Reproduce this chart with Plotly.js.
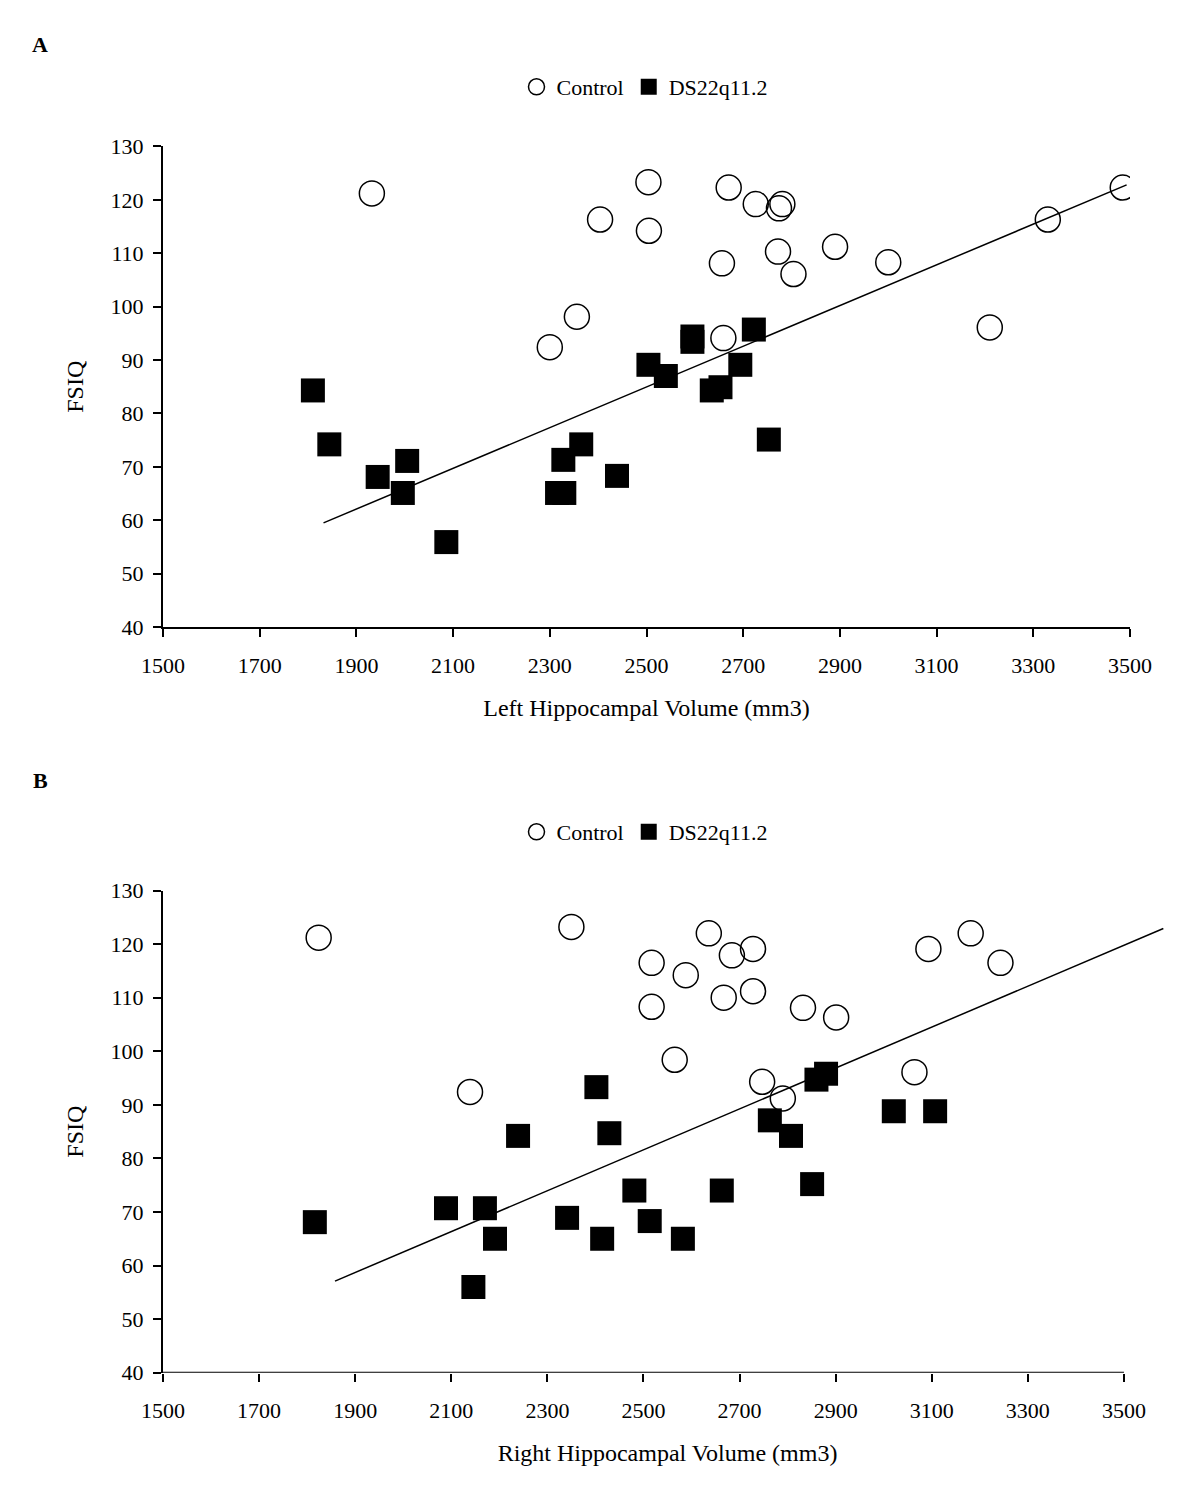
<!DOCTYPE html>
<html>
<head>
<meta charset="utf-8">
<script src="https://cdn.plot.ly/plotly-3.0.1.min.js"></script>
<style>
  html, body { margin: 0; padding: 0; background: #ffffff; }
  #chart { width: 1200px; height: 1491px; }
</style>
</head>
<body>
<div id="chart"></div>
<script>
// ---------- Data ----------
// Panel A : Left hippocampal volume vs FSIQ
const ctrlA_x = [1932, 2300, 2356, 2404, 2504, 2505, 2659, 2656, 2670, 2726, 2781, 2774, 2772, 2804, 2890, 3000, 3210, 3330, 3485];
const ctrlA_y = [121.2, 92.4, 98.1, 116.3, 123.3, 114.2, 94.1, 108.1, 122.3, 119.2, 119.2, 118.4, 110.3, 106.1, 111.2, 108.3, 96.1, 116.3, 122.3];
const dsA_x = [1810, 1844, 1944, 1996, 2005, 2086, 2315, 2330, 2328, 2365, 2439, 2504, 2540, 2595, 2595, 2635, 2653, 2694, 2722, 2753];
const dsA_y = [84.3, 74.2, 68.1, 65.1, 71.1, 55.9, 65.1, 65.1, 71.3, 74.2, 68.3, 89.1, 87.0, 94.4, 93.4, 84.3, 84.9, 89.1, 95.7, 75.1];
const trendA_x = [1832, 3493];
const trendA_y = [59.5, 122.8];

// Panel B : Right hippocampal volume vs FSIQ
const ctrlB_x = [1824, 2350, 2139, 2517, 2517, 2636, 2588, 2684, 2728, 2667, 2728, 2832, 2901, 2565, 2747, 2790, 3064, 3093, 3181, 3243];
const ctrlB_y = [121.2, 123.2, 92.4, 116.5, 108.3, 122.0, 114.2, 117.9, 119.1, 110.0, 111.2, 108.1, 106.3, 98.4, 94.3, 91.2, 96.1, 119.1, 122.0, 116.5];
const dsB_x = [1816, 2089, 2146, 2170, 2191, 2239, 2341, 2402, 2414, 2429, 2481, 2513, 2582, 2663, 2763, 2807, 2851, 2860, 2880, 3021, 3107];
const dsB_y = [68.1, 70.7, 56.0, 70.7, 65.0, 84.2, 68.9, 93.3, 65.0, 84.7, 74.0, 68.3, 65.0, 74.0, 87.1, 84.2, 75.2, 94.7, 95.8, 88.8, 88.8];
const trendB_x = [1858, 3582];
const trendB_y = [57.1, 122.9];

// Axes / labels
const xTicks = [1500, 1700, 1900, 2100, 2300, 2500, 2700, 2900, 3100, 3300, 3500];
const yTicks = [40, 50, 60, 70, 80, 90, 100, 110, 120, 130];
const seriesNames = ['Control', 'DS22q11.2'];
const xTitles = ['Left Hippocampal Volume (mm3)', 'Right Hippocampal Volume (mm3)'];
const yTitle = 'FSIQ';
const panelLabels = ['A', 'B'];

// ---------- Styling ----------
const FONT = 'Liberation Serif, Times New Roman, serif';
const W = 1200, H = 1491;

function trendTrace(x, y, xa, ya) {
  return { x: x, y: y, xaxis: xa, yaxis: ya, mode: 'lines', type: 'scatter',
    line: { color: '#000', width: 1.5 }, showlegend: false, hoverinfo: 'skip' };
}
function dsTrace(x, y, xa, ya, lg) {
  return { x: x, y: y, xaxis: xa, yaxis: ya, mode: 'markers', type: 'scatter',
    name: seriesNames[1], legend: lg,
    marker: { symbol: 'square', size: 24, color: '#000', line: { width: 0 } } };
}
function ctrlTrace(x, y, xa, ya, lg) {
  return { x: x, y: y, xaxis: xa, yaxis: ya, mode: 'markers', type: 'scatter',
    name: seriesNames[0], legend: lg,
    marker: { symbol: 'circle-open', size: 25, color: '#000', line: { width: 1.5, color: '#000' } } };
}

const data = [
  trendTrace(trendA_x, trendA_y, 'x', 'y'),
  ctrlTrace(ctrlA_x, ctrlA_y, 'x', 'y', 'legend'),
  dsTrace(dsA_x, dsA_y, 'x', 'y', 'legend'),
  trendTrace(trendB_x, trendB_y, 'x2', 'y2'),
  ctrlTrace(ctrlB_x, ctrlB_y, 'x2', 'y2', 'legend2'),
  dsTrace(dsB_x, dsB_y, 'x2', 'y2', 'legend2')
];

const tickFont = { family: FONT, size: 22, color: '#000' };
const titleFont = { family: FONT, size: 24, color: '#000' };

function xAxis(domain, range, anchor, title, showline) {
  return {
    domain: domain, range: range, anchor: anchor,
    tickmode: 'array', tickvals: xTicks, ticktext: xTicks.map(String),
    ticks: 'outside', ticklen: 8, tickwidth: 2, tickcolor: '#000',
    showline: showline, linecolor: '#000', linewidth: 2,
    showgrid: false, zeroline: false,
    tickfont: tickFont, ticklabelstandoff: 10,
    title: { text: title, font: titleFont, standoff: 22 },
    fixedrange: true
  };
}
function yAxis(domain, anchor) {
  return {
    domain: domain, range: [yTicks[0], yTicks[yTicks.length - 1]], anchor: anchor,
    tickmode: 'array', tickvals: yTicks, ticktext: yTicks.map(String),
    ticks: 'outside', ticklen: 8, tickwidth: 2, tickcolor: '#000',
    showline: true, linecolor: '#000', linewidth: 2,
    showgrid: false, zeroline: false,
    tickfont: tickFont, ticklabelstandoff: 5,
    title: { text: yTitle, font: titleFont, standoff: 20 },
    fixedrange: true
  };
}

const legendCommon = {
  orientation: 'h', xanchor: 'center', yanchor: 'middle',
  font: { family: FONT, size: 22, color: '#000' },
  bgcolor: 'rgba(0,0,0,0)', itemwidth: 30, tracegroupgap: 0
};

const layout = {
  width: W, height: H,
  margin: { l: 0, r: 0, t: 0, b: 0 },
  paper_bgcolor: '#fff', plot_bgcolor: '#fff',
  font: { family: FONT, color: '#000' },
  xaxis: xAxis([163 / W, 1130 / W], [xTicks[0], xTicks[xTicks.length - 1]], 'y', xTitles[0], true),
  yaxis: yAxis([(H - 627) / H, (H - 146.4) / H], 'x'),
  xaxis2: xAxis([163 / W, 1172 / W], [xTicks[0], 3600], 'y2', xTitles[1], false),
  yaxis2: yAxis([(H - 1372.7) / H, (H - 890.5) / H], 'x2'),
  legend: Object.assign({ x: 645 / W, y: (H - 87) / H }, legendCommon),
  legend2: Object.assign({ x: 645 / W, y: (H - 832) / H }, legendCommon),
  shapes: [
    // x-axis line of panel B stops at the last tick while the plot area continues
    { type: 'line', xref: 'x2', yref: 'y2',
      x0: xTicks[0], x1: xTicks[xTicks.length - 1], y0: yTicks[0], y1: yTicks[0],
      line: { color: '#000', width: 2 } }
  ],
  annotations: [
    { text: '<b>' + panelLabels[0] + '</b>', xref: 'paper', yref: 'paper', x: 40 / W, y: (H - 45) / H,
      xanchor: 'center', yanchor: 'middle', showarrow: false, font: { family: FONT, size: 22, color: '#000' } },
    { text: '<b>' + panelLabels[1] + '</b>', xref: 'paper', yref: 'paper', x: 40 / W, y: (H - 780) / H,
      xanchor: 'center', yanchor: 'middle', showarrow: false, font: { family: FONT, size: 22, color: '#000' } }
  ],
  showlegend: true
};

Plotly.newPlot('chart', data, layout, { staticPlot: true, displayModeBar: false });
</script>
</body>
</html>
